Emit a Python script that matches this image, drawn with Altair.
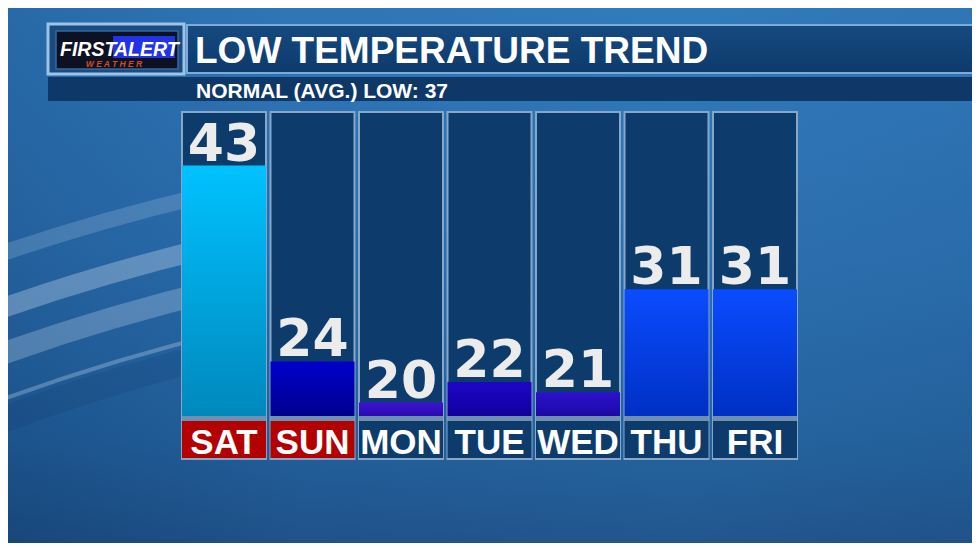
import altair as alt
import pandas as pd

# ---- data ----
days = ["SAT", "SUN", "MON", "TUE", "WED", "THU", "FRI"]
lows = [43, 24, 20, 22, 21, 31, 31]
weekend = ["wk", "wk", "wd", "wd", "wd", "wd", "wd"]
bar_top = ["#00c2ff", "#0000cc", "#3c14d4", "#1e06c8", "#2c12cc", "#0a4cff", "#0a4cff"]
bar_bot = ["#0088bc", "#00008e", "#2a0aae", "#12009c", "#1c08a4", "#0030c4", "#0030c4"]

title = "LOW TEMPERATURE TREND"
subtitle = "NORMAL (AVG.) LOW: 37"
logo_a, logo_b, logo_c = "FIRST", "ALERT", "W E A T H E R"

df = pd.DataFrame({"day": days, "low": lows, "wk": weekend})

W, H = 964, 535
BASE = 18.7
xs = alt.Scale(domain=days, range=[174, 789], paddingInner=0.051, paddingOuter=0)
ys = alt.Scale(domain=[BASE, 48.2], range=[408, 104], zero=False, nice=False)
X = alt.X("day:N", scale=xs, axis=None)

one = alt.Data(values=[{"a": 1}])
SANS = "Liberation Sans, Arial, sans-serif"


def grad(stops, horizontal=False):
    return {
        "gradient": "linear",
        "x1": 0, "y1": 0,
        "x2": 1 if horizontal else 0, "y2": 0 if horizontal else 1,
        "stops": [{"offset": o, "color": c} for o, c in stops],
    }


def box(x1, x2, y1, y2, **kw):
    return alt.Chart(one).mark_rect(**kw).encode(
        x=alt.value(x1), x2=alt.value(x2), y=alt.value(y1), y2=alt.value(y2))


def label(txt, x, y, **kw):
    return alt.Chart(one).mark_text(baseline="alphabetic", **kw).encode(
        x=alt.value(x), y=alt.value(y), text=alt.value(txt))


def band(r1, r2, op, col="#cfe2f4"):
    return alt.Chart(one).mark_arc(radius=r1, radius2=r2, theta=5.88, theta2=6.05,
                                   color=col, opacity=op).encode(
        x=alt.value(692), y=alt.value(2300))


layers = []
# background
layers.append(box(0, W, 0, H, fill=grad([(0, "#3380c2"), (0.45, "#2b6eae"), (0.8, "#1d5890"), (1, "#163f6e")])))
layers.append(box(0, W, 0, H, fill=grad([(0, "#1a4f88"), (0.3, "#2a6aaa"), (0.7, "#2f74b4"), (1, "#2a6aa8")], True), opacity=0.45))
layers.append(band(2162, 2178, 0.2))
layers.append(band(2108, 2128, 0.34))
layers.append(band(2064, 2086, 0.28))
layers.append(band(2030, 2034, 0.3))
layers.append(band(2000, 2026, 0.12, "#0a2a50"))

# header
layers.append(box(40, 176, 16, 66, fill="#1b4c80", stroke="#9cc4e8", strokeWidth=3))
layers.append(box(48, 170, 23, 61, fill="#0c1224", stroke="#3a66a0", strokeWidth=1.5))
layers.append(box(105, 167, 28, 50, fill="#2233e6"))
layers.append(box(179, 975, 17, 65, fill=grad([(0, "#164a80"), (1, "#0d3a6c")]), stroke="#7eaad6", strokeWidth=2))
layers.append(box(40, 975, 69, 93, fill="#0d3868"))
layers.append(label(logo_a, 52, 48, font=SANS, fontSize=19.5, fontWeight="bold", fontStyle="italic",
                    color="#ffffff", align="left"))
layers.append(label(logo_b, 106, 48, font=SANS, fontSize=19.5, fontWeight="bold", fontStyle="italic",
                    color="#ffffff", align="left"))
layers.append(label(logo_c, 106, 59, font=SANS, fontSize=8.5, fontWeight="bold",
                    fontStyle="italic", color="#d84a18", align="center"))
layers.append(label(title, 187, 55, font=SANS, fontSize=37, fontWeight="bold", color="#ffffff", align="left"))
layers.append(label(subtitle, 188, 90, font=SANS, fontSize=21, fontWeight="bold", color="#ffffff", align="left"))

base = alt.Chart(df)
# column frames
layers.append(base.mark_rect(fill="#0d3b6b", stroke="#87a7c9", strokeWidth=2).encode(
    x=X, y=alt.value(104), y2=alt.value(451)))

# bars, one gradient each
for d, t, b in zip(days, bar_top, bar_bot):
    layers.append(base.transform_filter(alt.datum.day == d).mark_bar(
        color=grad([(0, t), (1, b)])).encode(
        x=X, y=alt.Y("low:Q", scale=ys, axis=None), y2=alt.datum(BASE)))

# separator + day label boxes
layers.append(base.mark_rect(fill="#6f8fb1").encode(x=X, y=alt.value(408), y2=alt.value(413)))
layers.append(base.mark_rect().encode(
    x=X, y=alt.value(413), y2=alt.value(450),
    color=alt.Color("wk:N", scale=alt.Scale(domain=["wk", "wd"], range=["#b30000", "#0d3b6b"]), legend=None)))
layers.append(base.mark_text(font=SANS, fontSize=35, fontWeight="bold", color="#ffffff",
                             baseline="alphabetic").encode(
    x=X, y=alt.value(446), text="day:N"))

# value labels
layers.append(base.mark_text(font="DejaVu Sans, sans-serif", fontSize=52, fontWeight="bold",
                             color="#ececec", baseline="alphabetic", dy=-5).encode(
    x=X, y=alt.Y("low:Q", scale=ys, axis=None), text="low:Q"))

chart = alt.layer(*layers).properties(width=W, height=H, padding=0, autosize="none").configure_view(stroke=None)
chart.save("out.html", embed_options={"renderer": "svg", "actions": False})
